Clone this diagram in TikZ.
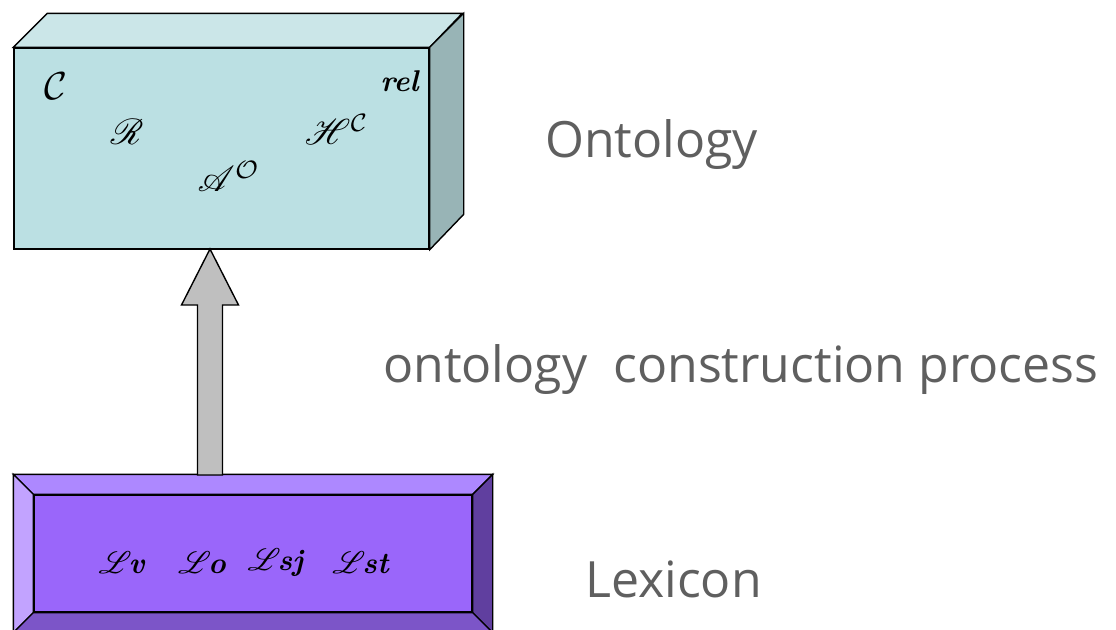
\documentclass[tikz,border=0pt]{standalone}
\usepackage{fontspec}
\usepackage{mathrsfs}
\usepackage{graphicx}
\newfontfamily\captionfont{Open Sans}
\newcommand{\symtxt}[1]{\scalebox{3}{\textbf{\textit{#1}}}}
\newcommand{\symmath}[2][3.6]{\scalebox{#1}{$\boldmath#2$}}
\newcommand{\lexsym}[1]{\symmath[3.1]{\mathscr{L}}\hspace{-3pt}\symtxt{#1}}
\definecolor{ontofront}{HTML}{BBE0E3}
\definecolor{ontotop}{HTML}{CBE6E8}
\definecolor{ontoside}{HTML}{98B4B6}
\definecolor{lexface}{HTML}{9A66FA}
\definecolor{lextop}{HTML}{AD88FF}
\definecolor{lexleft}{HTML}{C2A3FF}
\definecolor{lexright}{HTML}{603F9F}
\definecolor{lexbottom}{HTML}{7C55C8}
\definecolor{captiongray}{HTML}{5F5F5F}
\begin{document}
\begin{tikzpicture}[x=1pt, y=-1pt, line join=miter,
      facebox/.style={draw, line width=1.4pt, inner sep=0pt},
      edgeline/.style={draw, line width=1.4pt},
      sym/.style={inner sep=0pt},
      caption/.style={inner sep=0pt, anchor=base west, text=captiongray, font=\captionfont\fontsize{50}{60}\selectfont},
      blockarr/.style={draw, line width=1.4pt, fill=gray!50}]
    \useasboundingbox (0,0) rectangle (1116,629);
    \clip (0,0) rectangle (1116,629);
    % ontology box
    \node[facebox, fill=ontofront, minimum width=415pt, minimum height=201pt] (onto) at (221.5,148.5) {};
    \draw[edgeline, fill=ontotop] (onto.north west) -- ++(34,-34) -- ++(415,0) -- (onto.north east) -- cycle;
    \draw[edgeline, fill=ontoside] (onto.north east) -- ++(34,-34) -- ++(0,201) -- (onto.south east) -- cycle;
    \node[sym] (c) at (56,86) {\symmath[3.9]{\mathcal{C}}};
    \node[sym] (r) at (127,132) {\symmath{\mathscr{R}}};
    \node[sym] (ao) at (229,176) {\symmath{\mathscr{A}^{\mathcal{O}}}};
    \node[sym] (hc) at (337,129) {\symmath{\mathscr{H}^{\mathcal{C}}}};
    \node[sym] (rel) at (400,81) {\symtxt{rel}};
    % lexicon box
    \node[facebox, fill=lexface, minimum width=478pt, minimum height=157pt] (lex) at (253,553.5) {};
    \node[facebox, minimum width=438pt, minimum height=117pt] (lexin) at (253,553.5) {};
    \draw[edgeline, fill=lextop] (lex.north west) -- (lex.north east) -- (lexin.north east) -- (lexin.north west) -- cycle;
    \draw[edgeline, fill=lexleft] (lex.north west) -- (lexin.north west) -- (lexin.south west) -- (lex.south west) -- cycle;
    \draw[edgeline, fill=lexright] (lex.north east) -- (lexin.north east) -- (lexin.south east) -- (lex.south east) -- cycle;
    \draw[edgeline, fill=lexbottom] (lex.south west) -- (lexin.south west) -- (lexin.south east) -- (lex.south east) -- cycle;
    \node[sym] (lv) at (122,563) {\lexsym{v}};
    \node[sym] (lo) at (202,563) {\lexsym{o}};
    \node[sym] (lsj) at (276,563) {\lexsym{sj}};
    \node[sym] (lst) at (361,563) {\lexsym{st}};
    % construction arrow
    \coordinate (tip) at (210,249);
    \coordinate (foot) at (210,475);
    \draw[blockarr] ([xshift=-12.5pt]foot) -- ++(0,-170) -- ++(-16,0) -- (tip) -- ++(28.5,56) -- ++(-16,0) -- ([xshift=12.5pt]foot) -- cycle;
    % captions
    \node[caption] (ontocap) at (545,157) {Ontology};
    \node[caption] (proccap) at (383,382) {ontology\ \ construction process};
    \node[caption] (lexcap) at (585,597) {Lexicon};
  \end{tikzpicture}
\end{document}
